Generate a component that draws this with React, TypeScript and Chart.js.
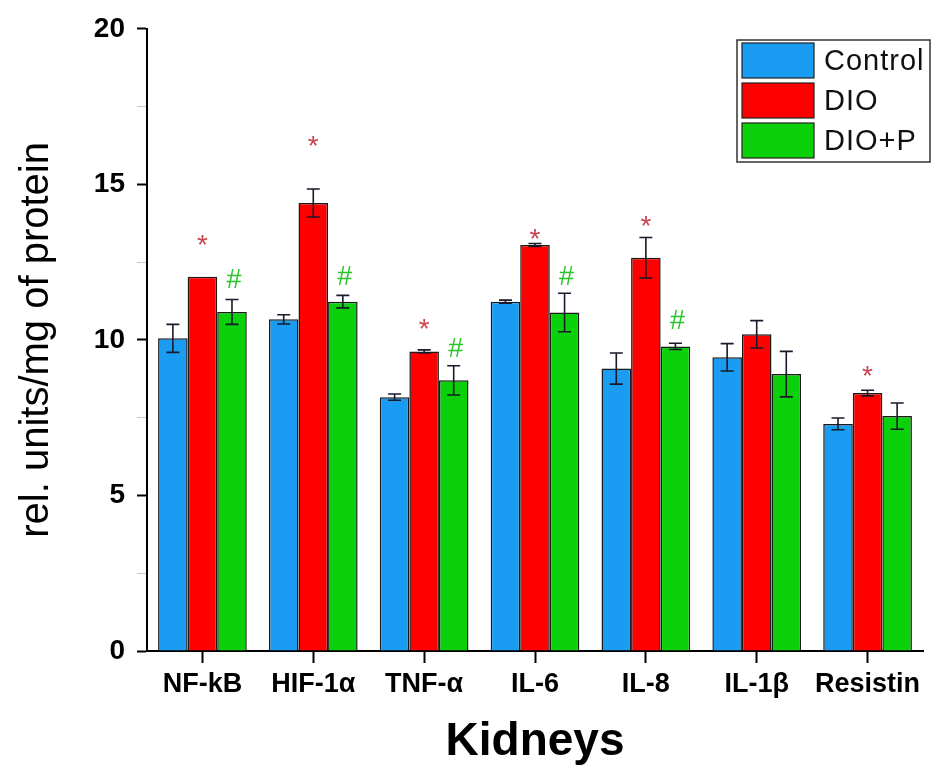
import React, { useEffect, useRef } from "react";
import { Chart, registerables } from "chart.js";

Chart.register(...registerables);

const categories = ["NF-kB", "HIF-1α", "TNF-α", "IL-6", "IL-8", "IL-1β", "Resistin"];
const seriesNames = ["Control", "DIO", "DIO+P"];
const controlValues = [10.05, 10.66, 8.16, 11.23, 9.08, 9.44, 7.3];
const controlErrors = [0.45, 0.15, 0.1, 0.05, 0.5, 0.44, 0.19];
const dioValues = [12.03, 14.4, 9.63, 13.05, 12.64, 10.18, 8.29];
const dioErrors = [0, 0.45, 0.05, 0.05, 0.65, 0.44, 0.09];
const dioPValues = [10.9, 11.23, 8.7, 10.88, 9.79, 8.9, 7.55];
const dioPErrors = [0.4, 0.2, 0.47, 0.62, 0.1, 0.73, 0.42];
// heights (data units) of significance markers
const dioStarAt = [13.2, 16.4, 10.5, 13.4, 13.8, null, 9.0];
const dioPHashAt = [11.9, 12.0, 9.7, 12.0, 10.6, null, null];
const yTicks = [0, 5, 10, 15, 20];

const COLORS = ["#1A9CF2", "#FF0000", "#0BD10B"];
const FONT = "Arial, 'Liberation Sans', Helvetica, sans-serif";

const errorBarsPlugin = {
  id: "errorBars",
  afterDatasetsDraw(chart: any) {
    const ctx = chart.ctx;
    const y = chart.scales.y;
    const errs = [controlErrors, dioErrors, dioPErrors];
    const vals = [controlValues, dioValues, dioPValues];
    ctx.save();
    ctx.strokeStyle = "#1a1a2a";
    ctx.lineWidth = 1.6;
    errs.forEach((arr, di) => {
      const meta = chart.getDatasetMeta(di);
      arr.forEach((e, i) => {
        if (!e) return;
        const bar = meta.data[i];
        const x = bar.x;
        const yt = y.getPixelForValue(vals[di][i] + e);
        const yb = y.getPixelForValue(vals[di][i] - e);
        const hw = 6.5;
        ctx.beginPath();
        ctx.moveTo(x, yt);
        ctx.lineTo(x, yb);
        ctx.moveTo(x - hw, yt);
        ctx.lineTo(x + hw, yt);
        ctx.moveTo(x - hw, yb);
        ctx.lineTo(x + hw, yb);
        ctx.stroke();
      });
    });
    // significance markers
    ctx.textAlign = "center";
    ctx.textBaseline = "middle";
    const m1 = chart.getDatasetMeta(1);
    ctx.fillStyle = "#C8474F";
    ctx.font = `28px ${FONT}`;
    dioStarAt.forEach((v, i) => {
      if (v == null) return;
      ctx.fillText("*", m1.data[i].x, y.getPixelForValue(v) + 6);
    });
    const m2 = chart.getDatasetMeta(2);
    ctx.fillStyle = "#2DC42D";
    ctx.font = `27px ${FONT}`;
    dioPHashAt.forEach((v, i) => {
      if (v == null) return;
      ctx.fillText("#", m2.data[i].x + 2, y.getPixelForValue(v));
    });
    ctx.restore();
  },
  afterDraw(chart: any) {
    const ctx = chart.ctx;
    ctx.save();
    // legend
    const lx = 737, ly = 40, lw = 193, lh = 122;
    ctx.strokeStyle = "#333";
    ctx.lineWidth = 1.5;
    ctx.strokeRect(lx, ly, lw, lh);
    ctx.font = `29px ${FONT}`;
    try {
      (ctx as any).letterSpacing = "1px";
    } catch (e) {}
    ctx.textAlign = "left";
    ctx.textBaseline = "middle";
    seriesNames.forEach((name, i) => {
      const sy = ly + 3 + i * 40;
      ctx.fillStyle = COLORS[i];
      ctx.fillRect(lx + 5, sy, 72, 35);
      ctx.strokeStyle = "#222";
      ctx.lineWidth = 1.2;
      ctx.strokeRect(lx + 5, sy, 72, 35);
      ctx.fillStyle = "#111";
      ctx.fillText(name, lx + 87, sy + 19);
    });
    ctx.restore();
  },
};

export default function App() {
  const ref = useRef<HTMLCanvasElement | null>(null);
  useEffect(() => {
    document.body.style.margin = "0";
    document.body.style.overflow = "hidden";
    const canvas = ref.current!;
    const chart = new Chart(canvas, {
      type: "bar",
      data: {
        labels: categories,
        datasets: [
          { label: seriesNames[0], data: controlValues, backgroundColor: COLORS[0] },
          { label: seriesNames[1], data: dioValues, backgroundColor: COLORS[1] },
          { label: seriesNames[2], data: dioPValues, backgroundColor: COLORS[2] },
        ].map((d) => ({
          ...d,
          borderColor: "#1a1a1a",
          borderWidth: 1.5,
          categoryPercentage: 0.8,
          barPercentage: 1.0,
        })),
      },
      options: {
        animation: false,
        responsive: false,
        maintainAspectRatio: false,
        layout: { padding: { top: 26, right: 22, left: 0, bottom: 0 } },
        plugins: { legend: { display: false }, tooltip: { enabled: false } },
        scales: {
          x: {
            grid: {
              display: true,
              drawOnChartArea: false,
              drawTicks: true,
              offset: false,
              tickLength: 12,
              tickWidth: 2,
              tickColor: "#000",
            },
            border: { display: true, color: "#000", width: 2 },
            ticks: {
              autoSkip: false,
              maxRotation: 0,
              color: "#000",
              padding: 5,
              font: { family: FONT, size: 27, weight: "bold" },
            },
            title: {
              display: true,
              text: "Kidneys",
              color: "#000",
              font: { family: FONT, size: 46, weight: "bold" },
              padding: { top: 0, bottom: 6 },
            },
            afterFit: (s: any) => {
              s.height = 125;
            },
          },
          y: {
            min: 0,
            max: 20,
            grid: {
              display: true,
              drawOnChartArea: false,
              drawTicks: true,
              tickLength: 10,
              tickWidth: (c: any) => (c.tick && yTicks.includes(c.tick.value) ? 2 : 1),
              tickColor: (c: any) => (c.tick && yTicks.includes(c.tick.value) ? "#000" : "#c8c8c8"),
            },
            border: { display: true, color: "#000", width: 2 },
            ticks: {
              stepSize: 2.5,
              autoSkip: false,
              color: "#000",
              padding: 12,
              font: { family: FONT, size: 28, weight: "bold" },
              callback: (v: any) => (yTicks.includes(Number(v)) ? String(v) : ""),
            },
            title: {
              display: true,
              text: "rel. units/mg of protein",
              color: "#000",
              font: { family: FONT, size: 40 },
              padding: { top: 13, bottom: 0 },
            },
            afterFit: (s: any) => {
              s.width = 147;
            },
          },
        },
      } as any,
      plugins: [errorBarsPlugin],
    });
    return () => chart.destroy();
  }, []);
  return (
    <canvas
      ref={ref}
      width={945}
      height={776}
      style={{ display: "block", width: "945px", height: "776px", background: "#fff" }}
    />
  );
}
